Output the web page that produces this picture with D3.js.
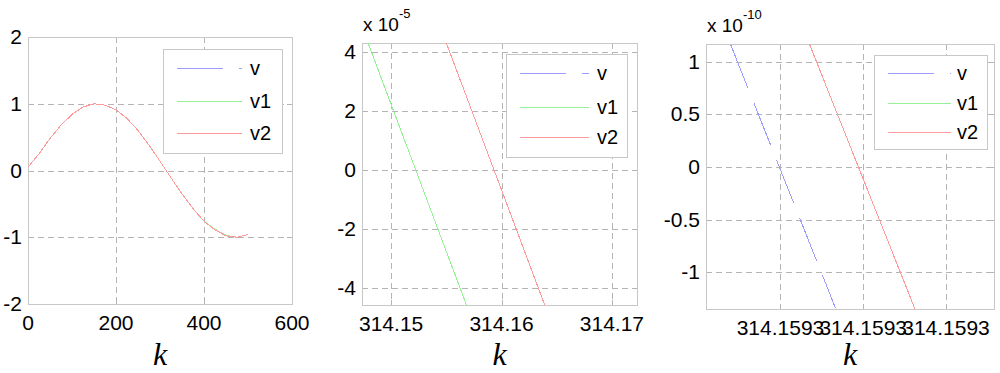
<!DOCTYPE html>
<html>
<head>
<meta charset="utf-8">
<script src="https://cdn.jsdelivr.net/npm/d3@7"></script>
<style>
  body { margin: 0; background: #fff; }
  svg { display: block; }
  text { font-family: "Liberation Sans", Arial, sans-serif; }
</style>
</head>
<body>
<svg id="chart" width="1000" height="373"></svg>
<script>
// ---- data ----
var seriesNames = ['v', 'v1', 'v2'];

// panel 1 : full range
var p1_k  = [0, 25, 50, 75, 100, 125, 150, 175, 200, 225, 250, 275, 300, 325, 350, 375, 400, 425, 450, 475, 500];
var p1_v  = [0.05, 0.25, 0.48, 0.68, 0.84, 0.95, 1.0, 0.98, 0.91, 0.78, 0.60, 0.38, 0.14, -0.11, -0.35, -0.57, -0.76, -0.89, -0.98, -1.0, -0.96];
var p1_v1 = [0.05, 0.25, 0.48, 0.68, 0.84, 0.95, 1.0, 0.98, 0.91, 0.78, 0.60, 0.38, 0.14, -0.11, -0.35, -0.57, -0.76, -0.88, -0.97, -1.0, -0.96];
var p1_v2 = [0.05, 0.25, 0.48, 0.68, 0.84, 0.95, 1.0, 0.98, 0.91, 0.78, 0.60, 0.38, 0.14, -0.11, -0.35, -0.57, -0.76, -0.89, -0.98, -1.0, -0.96];
var p1_xticks = [0, 200, 400, 600];
var p1_yticks = [-2, -1, 0, 1, 2];

// panel 2 : zoom near k = 314.16 (y in units of 1e-5)
var p2_k_v  = [314.15500, 314.16391];
var p2_v    = [4.3e-5, -4.58e-5];
var p2_k_v1 = [314.14791, 314.15682];
var p2_v1   = [4.3e-5, -4.58e-5];
var p2_k_v2 = [314.15500, 314.16391];
var p2_v2   = [4.3e-5, -4.58e-5];
var p2_xticks = [314.15, 314.16, 314.17];
var p2_xlabels = ['314.15', '314.16', '314.17'];
var p2_yticks = [-4e-5, -2e-5, 0, 2e-5, 4e-5];
var p2_ylabels = ['-4', '-2', '0', '2', '4'];

// panel 3 : zoom further (y in units of 1e-10), v1 lies outside the view
var p3_k_v  = [314.159265328, 314.1592653533];
var p3_v    = [1.16e-10, -1.343e-10];
var p3_k_v1 = [];
var p3_v1   = [];
var p3_k_v2 = [314.159265347, 314.1592653725];
var p3_v2   = [1.17e-10, -1.35e-10];
var p3_xticks = [314.15926534, 314.15926536, 314.15926538];
var p3_xlabels = ['314.1593', '314.1593', '314.1593'];
var p3_yticks = [-1e-10, -0.5e-10, 0, 0.5e-10, 1e-10];
var p3_ylabels = ['-1', '-0.5', '0', '0.5', '1'];

var colors = { v: '#9c9cff', v1: '#96f096', v2: '#ff9a9a' };
var dashes = { v: '46,16', v1: null, v2: null };

function zip(ks, vs) {
    return ks.map(function (k, i) { return [k, vs[i]]; });
}

var panels = [
    { box: [28, 292, 37, 304], xdom: [0, 600], ydom: [-2, 2],
      xticks: p1_xticks, xlabels: p1_xticks.map(String),
      yticks: p1_yticks, ylabels: p1_yticks.map(String),
      series: { v: zip(p1_k, p1_v), v1: zip(p1_k, p1_v1), v2: zip(p1_k, p1_v2) },
      legend: { box: [163, 282, 49, 153], rows: [68, 101, 133], line: [177, 242], text: 250 },
      exp: null },
    { box: [362, 637, 43, 305], xdom: [314.14736, 314.17227], ydom: [-4.58e-5, 4.3e-5],
      xticks: p2_xticks, xlabels: p2_xlabels, yticks: p2_yticks, ylabels: p2_ylabels,
      series: { v: zip(p2_k_v, p2_v), v1: zip(p2_k_v1, p2_v1), v2: zip(p2_k_v2, p2_v2) },
      legend: { box: [506, 627, 54, 157], rows: [73, 107, 137], line: [520, 589], text: 597 },
      exp: '-5' },
    { box: [706, 994, 44, 309], xdom: [314.159265322, 314.1592653916], ydom: [-1.35e-10, 1.17e-10],
      xticks: p3_xticks, xlabels: p3_xlabels, yticks: p3_yticks, ylabels: p3_ylabels,
      series: { v: zip(p3_k_v, p3_v), v1: zip(p3_k_v1, p3_v1), v2: zip(p3_k_v2, p3_v2) },
      legend: { box: [874, 987, 55, 149], rows: [73, 103, 132], line: [888, 951], text: 957 },
      exp: '-10' }
];

var svg = d3.select('#chart');

panels.forEach(function (p, idx) {
    var L = p.box[0], R = p.box[1], T = p.box[2], B = p.box[3];
    var x = d3.scaleLinear().domain(p.xdom).range([L, R]);
    var y = d3.scaleLinear().domain(p.ydom).range([B, T]);
    var g = svg.append('g');

    g.append('clipPath').attr('id', 'clip' + idx)
        .append('rect').attr('x', L).attr('y', T).attr('width', R - L).attr('height', B - T);

    // dashed grid
    g.selectAll('.gx').data(p.xticks).enter().append('line')
        .attr('x1', function (d) { return Math.round(x(d)) + 0.5; })
        .attr('x2', function (d) { return Math.round(x(d)) + 0.5; })
        .attr('y1', T).attr('y2', B)
        .attr('stroke', '#b4b4b4').attr('stroke-dasharray', '6,4');
    g.selectAll('.gy').data(p.yticks).enter().append('line')
        .attr('y1', function (d) { return Math.round(y(d)) + 0.5; })
        .attr('y2', function (d) { return Math.round(y(d)) + 0.5; })
        .attr('x1', L).attr('x2', R)
        .attr('stroke', '#b4b4b4').attr('stroke-dasharray', '6,4');

    // inward ticks on all four sides
    p.xticks.forEach(function (d) {
        var xx = Math.round(x(d)) + 0.5;
        g.append('line').attr('x1', xx).attr('x2', xx).attr('y1', B).attr('y2', B - 5).attr('stroke', '#b4b4b4');
        g.append('line').attr('x1', xx).attr('x2', xx).attr('y1', T).attr('y2', T + 5).attr('stroke', '#b4b4b4');
    });
    p.yticks.forEach(function (d) {
        var yy = Math.round(y(d)) + 0.5;
        g.append('line').attr('y1', yy).attr('y2', yy).attr('x1', L).attr('x2', L + 5).attr('stroke', '#b4b4b4');
        g.append('line').attr('y1', yy).attr('y2', yy).attr('x1', R).attr('x2', R - 5).attr('stroke', '#b4b4b4');
    });

    // frame
    g.append('rect').attr('x', L + 0.5).attr('y', T + 0.5)
        .attr('width', R - L).attr('height', B - T)
        .attr('fill', 'none').attr('stroke', '#c8c8c8');

    // curves (aliased, like the original renderer)
    var line = d3.line().x(function (d) { return x(d[0]); }).y(function (d) { return y(d[1]); });
    seriesNames.forEach(function (name) {
        var data = p.series[name];
        if (!data.length) return;
        g.append('path').datum(data)
            .attr('clip-path', 'url(#clip' + idx + ')')
            .attr('d', line)
            .attr('fill', 'none')
            .attr('stroke', colors[name])
            .attr('stroke-width', 1)
            .attr('shape-rendering', 'crispEdges')
            .attr('stroke-dasharray', dashes[name]);
    });

    // tick labels
    g.selectAll('.xl').data(p.xticks).enter().append('text')
        .attr('x', function (d) { return x(d); })
        .attr('y', B + 26)
        .attr('text-anchor', 'middle')
        .attr('font-size', '21px')
        .text(function (d, i) { return p.xlabels[i]; });
    g.selectAll('.yl').data(p.yticks).enter().append('text')
        .attr('x', L - 6)
        .attr('y', function (d) { return y(d) + 7; })
        .attr('text-anchor', 'end')
        .attr('font-size', '21px')
        .text(function (d, i) { return p.ylabels[i]; });

    // axis label
    g.append('text')
        .attr('x', (L + R) / 2)
        .attr('y', 365)
        .attr('text-anchor', 'middle')
        .style('font-family', '"Liberation Serif", "Times New Roman", serif')
        .style('font-style', 'italic')
        .attr('font-size', '32px')
        .text('k');

    // exponent label
    if (p.exp) {
        var ex = g.append('text').attr('x', L + 1).attr('y', T - 12).attr('font-size', '19px');
        ex.append('tspan').text('x 10');
        ex.append('tspan').attr('dy', -13).attr('font-size', '13px').text(p.exp);
    }

    // legend
    var lg = p.legend;
    g.append('rect').attr('x', lg.box[0] + 0.5).attr('y', lg.box[2] + 0.5)
        .attr('width', lg.box[1] - lg.box[0]).attr('height', lg.box[3] - lg.box[2])
        .attr('fill', '#fff').attr('stroke', '#c8c8c8');
    seriesNames.forEach(function (name, i) {
        var yy = lg.rows[i] + 0.5;
        g.append('line').attr('x1', lg.line[0]).attr('x2', lg.line[1])
            .attr('y1', yy).attr('y2', yy)
            .attr('stroke', colors[name]).attr('stroke-width', 1)
            .attr('shape-rendering', 'crispEdges')
            .attr('stroke-dasharray', dashes[name]);
        g.append('text').attr('x', lg.text).attr('y', lg.rows[i] + 7)
            .attr('font-size', '20px').text(name);
    });
});
</script>
</body>
</html>
